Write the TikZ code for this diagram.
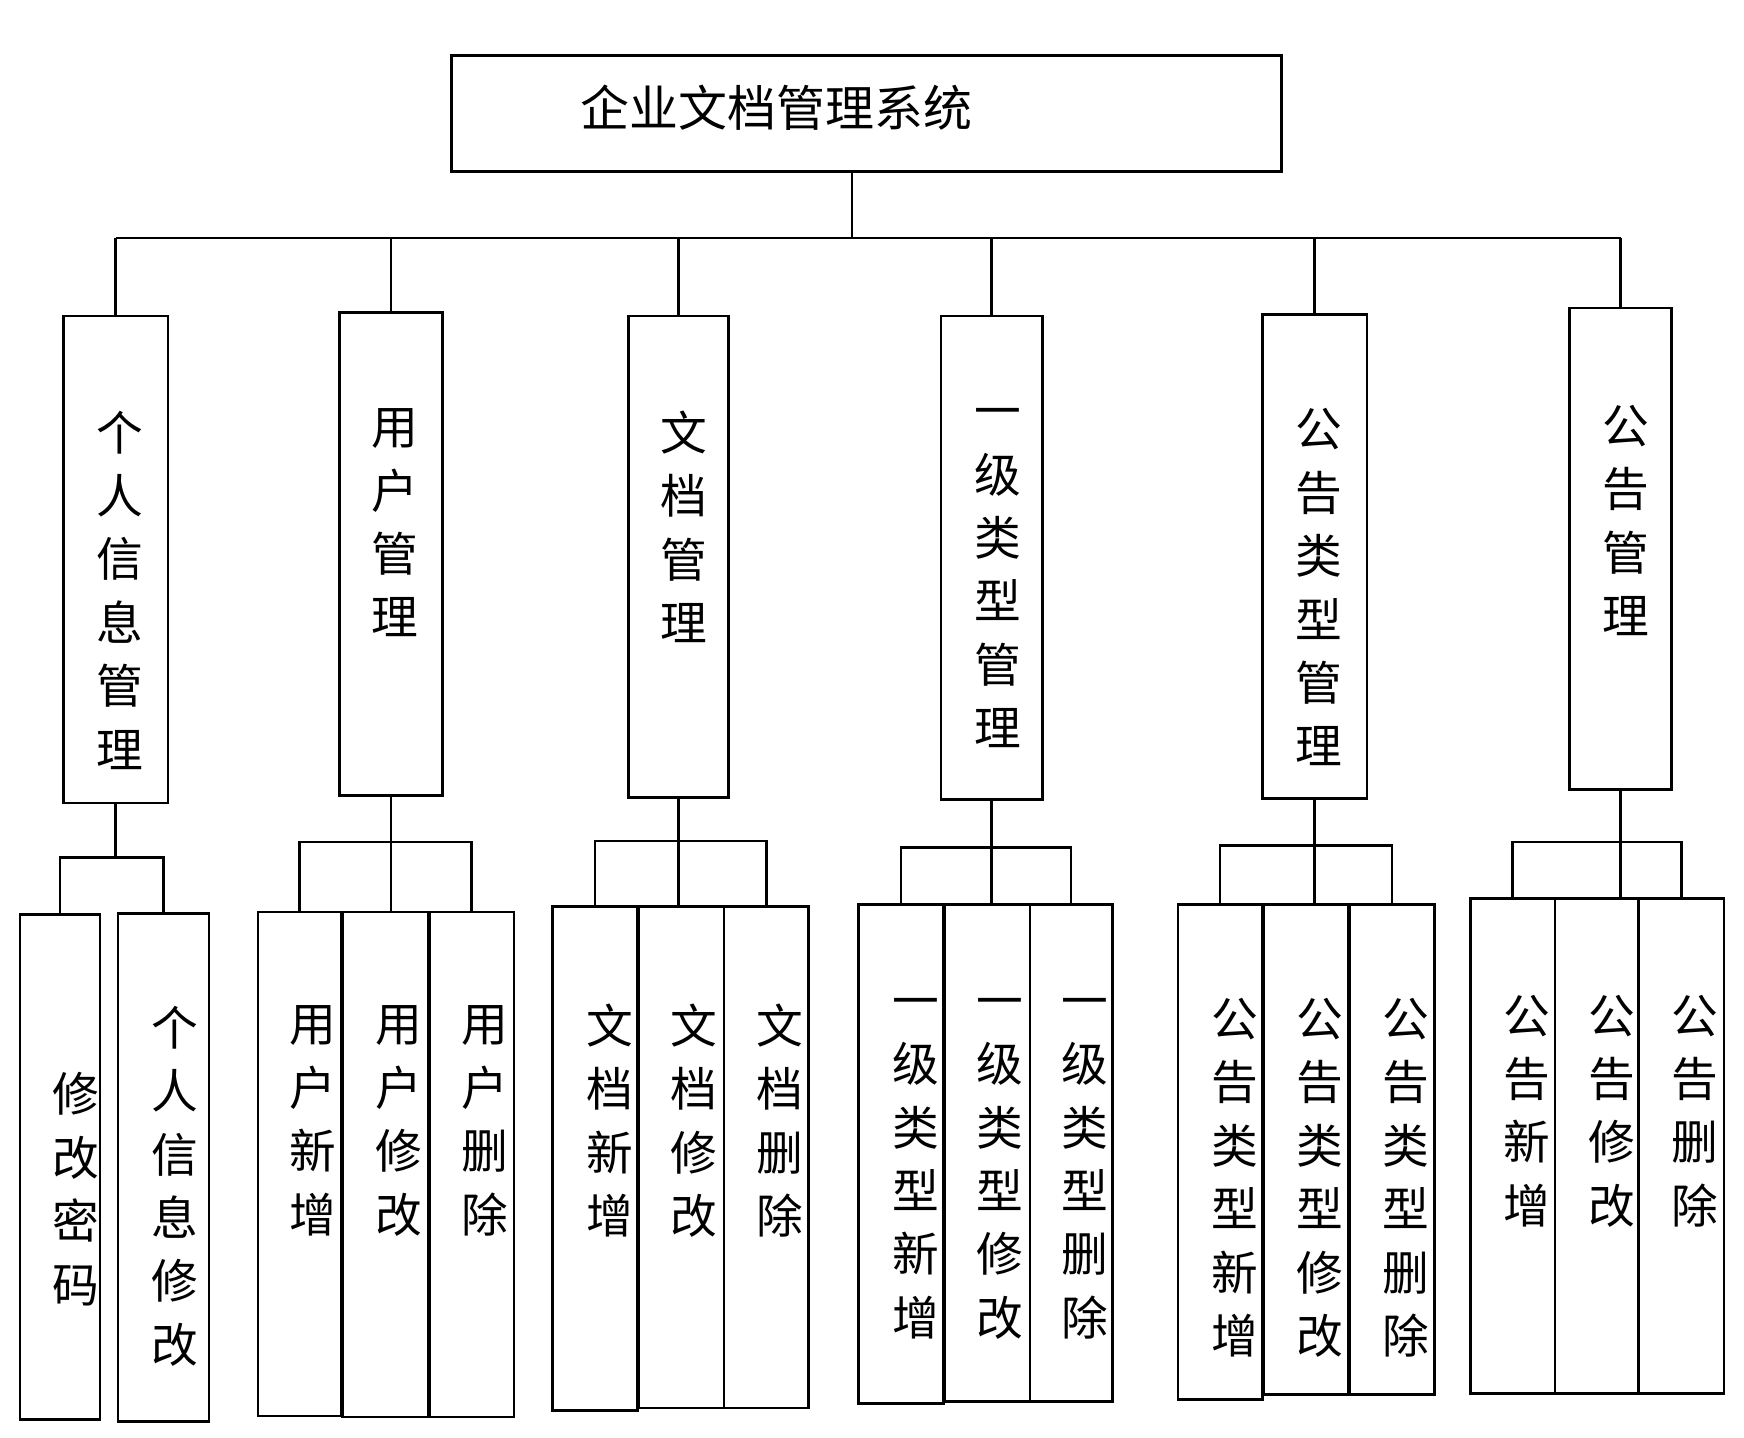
\documentclass[tikz,border=0pt]{standalone}
\usepackage{fontspec}
\newfontfamily\cjk{Noto Sans CJK SC}
\usetikzlibrary{fit}
\begin{document}
\begin{tikzpicture}[x=0.5pt,y=-0.5pt,
  box/.style={draw,line width=1.2pt,inner sep=0pt,rectangle},
  vtext/.style={anchor=north,align=center,inner sep=0pt,font=\cjk\fontsize{21}{28.5}\selectfont},
  ln/.style={line width=1.2pt}]
\useasboundingbox (0,0) rectangle (1568,1292);
\newcommand\bx[5]{\path (#2,#3) coordinate (#1a) (#4,#5) coordinate (#1b); \node[box,fit=(#1a)(#1b)] (#1) {};}
\newcommand\vt[4]{\node[vtext] (#1) at (#2,#3-16) {#4};}
% title
\bx{T}{406}{50}{1152}{154}
\node[font=\cjk\fontsize{22}{26}\selectfont,inner sep=0pt] (tt) at (698,97) {企业文档管理系统};
% level 2
\bx{A}{57}{284}{151}{722}\vt{tA}{108}{385}{个\\人\\信\\息\\管\\理}
\bx{B}{305}{281}{398}{715}\vt{tB}{355}{383}{用\\户\\管\\理}
\bx{C}{565}{284}{655}{717}\vt{tC}{615}{385}{文\\档\\管\\理}
\bx{D}{846}{284}{937}{719}\vt{tD}{897}{383}{一\\级\\类\\型\\管\\理}
\bx{E}{1135}{283}{1229}{718}\vt{tE}{1186}{383}{公\\告\\类\\型\\管\\理}
\bx{F}{1411}{277}{1503}{710}\vt{tF}{1462}{380}{公\\告\\管\\理}
% bus
\coordinate (s) at (766,214);
\draw[ln] (T.south -| s) -- (s);
\draw[ln] (A.north |- s) -- (F.north |- s);
\foreach \n in {A,B,C,D,E,F}{\draw[ln] (\n.north |- s) -- (\n.north);}
% level 3
\bx{A1}{18}{822}{90}{1276}\vt{tA1}{68}{980}{修\\改\\密\\码}
\bx{A2}{106}{821}{188}{1278}\vt{tA2}{157}{920}{个\\人\\信\\息\\修\\改}
\bx{B1}{232}{820}{307}{1273}\vt{tB1}{281}{920}{用\\户\\新\\增}
\bx{B2}{308}{820}{385}{1274}\vt{tB2}{359}{920}{用\\户\\修\\改}
\bx{B3}{386}{820}{462}{1274}\vt{tB3}{436}{920}{用\\户\\删\\除}
\bx{C1}{497}{815}{573}{1268}\vt{tC1}{548}{918}{文\\档\\新\\增}
\bx{C2}{574}{815}{651}{1266}\vt{tC2}{624}{918}{文\\档\\修\\改}
\bx{C3}{651}{815}{727}{1266}\vt{tC3}{701}{918}{文\\档\\删\\除}
\bx{D1}{772}{813}{848}{1262}\vt{tD1}{823}{913}{一\\级\\类\\型\\新\\增}
\bx{D2}{849}{813}{926}{1260}\vt{tD2}{899}{913}{一\\级\\类\\型\\修\\改}
\bx{D3}{926}{813}{1000}{1260}\vt{tD3}{975}{913}{一\\级\\类\\型\\删\\除}
\bx{E1}{1059}{813}{1135}{1258}\vt{tE1}{1110}{913}{公\\告\\类\\型\\新\\增}
\bx{E2}{1136}{813}{1212}{1254}\vt{tE2}{1187}{913}{公\\告\\类\\型\\修\\改}
\bx{E3}{1213}{813}{1290}{1254}\vt{tE3}{1264}{913}{公\\告\\类\\型\\删\\除}
\bx{F1}{1322}{808}{1398}{1253}\vt{tF1}{1373}{910}{公\\告\\新\\增}
\bx{F2}{1398}{808}{1473}{1253}\vt{tF2}{1449}{910}{公\\告\\修\\改}
\bx{F3}{1473}{808}{1550}{1253}\vt{tF3}{1524}{910}{公\\告\\删\\除}
% branches
\coordinate (ha) at (0,771);
\draw[ln] (A.south) -- (A.south |- ha);
\draw[ln] (A1.north) -- (A1.north |- ha) -- (A2.north |- ha) -- (A2.north);
\coordinate (hb) at (0,757);\coordinate (hc) at (0,756);\coordinate (hd) at (0,762);\coordinate (he) at (0,760);\coordinate (hf) at (0,757);
\foreach \p/\h in {B/hb,C/hc,D/hd,E/he,F/hf}{
  \draw[ln] (\p.south) -- (\p.south |- \p2.north);
  \draw[ln] (\p1.north) -- (\p1.north |- \h) -- (\p3.north |- \h) -- (\p3.north);
}
\end{tikzpicture}
\end{document}
